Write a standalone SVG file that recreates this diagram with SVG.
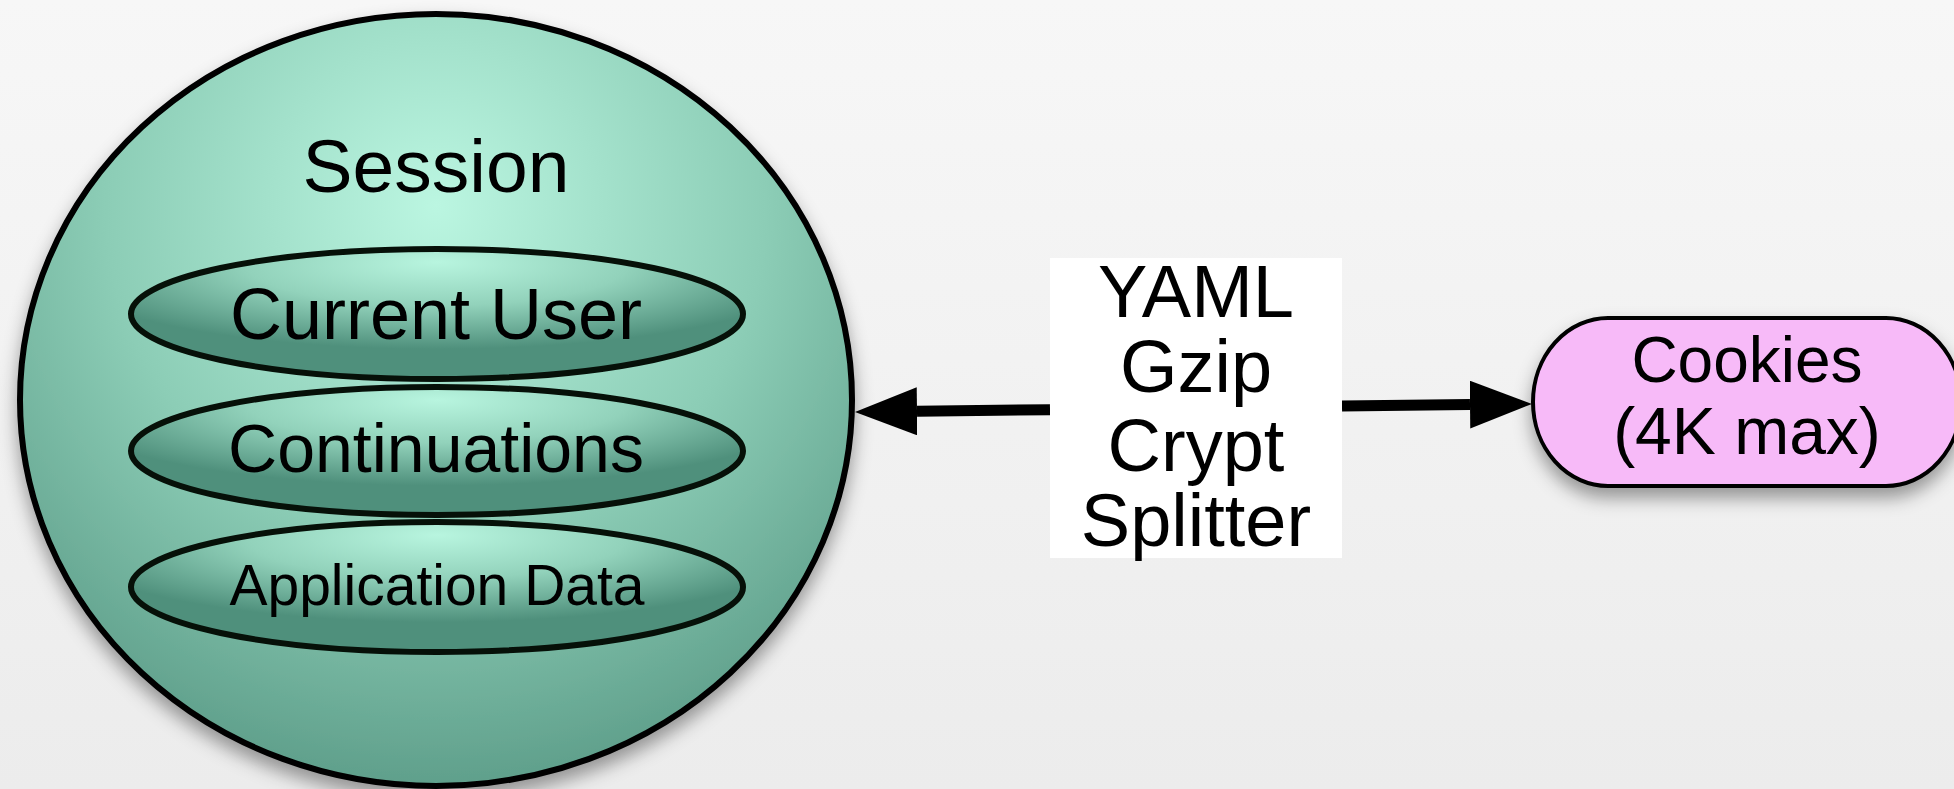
<svg xmlns="http://www.w3.org/2000/svg" width="1954" height="789" viewBox="0 0 1954 789">
<defs>
<linearGradient id="bg" x1="0" y1="0" x2="0" y2="1">
<stop offset="0" stop-color="#f7f7f7"/>
<stop offset="1" stop-color="#ececec"/>
</linearGradient>
<radialGradient id="bigGrad" gradientUnits="userSpaceOnUse" cx="436" cy="205" r="600">
<stop offset="0" stop-color="#bbf6e1"/>
<stop offset="0.55" stop-color="#8ccdb6"/>
<stop offset="1" stop-color="#5c9c88"/>
</radialGradient>
<radialGradient id="innerGrad" cx="0.5" cy="0.15" r="0.62" fx="0.5" fy="0.1">
<stop offset="0" stop-color="#b8f5df"/>
<stop offset="0.5" stop-color="#92d2bb"/>
<stop offset="1" stop-color="#4f907c"/>
</radialGradient>
<filter id="shadow" x="-20%" y="-20%" width="140%" height="150%">
<feDropShadow dx="0" dy="10" stdDeviation="9" flood-color="#000" flood-opacity="0.38"/>
</filter>
<marker id="head" viewBox="0 0 62 48" refX="0" refY="24" markerWidth="62" markerHeight="48" markerUnits="userSpaceOnUse" orient="auto">
<path d="M0,0 L62,24 L0,48 z" fill="#000"/>
</marker>
<style>
.lbl{font-family:"Liberation Sans",Arial,sans-serif;fill:#000;text-anchor:middle}
.inner{fill:url(#innerGrad);stroke:#061008;stroke-width:6}
.conn{stroke:#000;stroke-width:11;fill:none;marker-end:url(#head)}
.pipe{font-size:74px}
</style>
</defs>
<rect x="0" y="0" width="1954" height="789" fill="url(#bg)"/>

<g id="session">
<ellipse cx="436" cy="400" rx="416" ry="386" fill="url(#bigGrad)" stroke="#000" stroke-width="6" filter="url(#shadow)"/>
<text class="lbl" x="436" y="192" font-size="75">Session</text>
</g>

<g id="current-user">
<ellipse class="inner" cx="437" cy="314" rx="306" ry="65"/>
<text class="lbl" x="436" y="339" font-size="72">Current User</text>
</g>

<g id="continuations">
<ellipse class="inner" cx="437" cy="451" rx="306" ry="64"/>
<text class="lbl" x="436" y="472" font-size="68">Continuations</text>
</g>

<g id="application-data">
<ellipse class="inner" cx="437" cy="587" rx="306" ry="65"/>
<text class="lbl" x="437" y="605" font-size="57">Application Data</text>
</g>

<g id="connectors">
<line class="conn" x1="1050" y1="409.7" x2="917" y2="411.3"/>
<line class="conn" x1="1342" y1="406" x2="1470" y2="404.6"/>
</g>

<g id="pipeline">
<rect x="1050" y="258" width="292" height="300" fill="#fff"/>
<text class="lbl pipe" x="1196" y="317">YAML</text>
<text class="lbl pipe" x="1196" y="392">Gzip</text>
<text class="lbl pipe" x="1196" y="471">Crypt</text>
<text class="lbl pipe" x="1196" y="546">Splitter</text>
</g>

<g id="cookies">
<path d="M1608,318 L1886,318 A75,84 0 0 1 1886,486 L1608,486 A75,84 0 0 1 1608,318 z" fill="#f7baf8" stroke="#000" stroke-width="4" filter="url(#shadow)"/>
<text class="lbl" x="1747" y="382" font-size="64">Cookies</text>
<text class="lbl" x="1747" y="454" font-size="66">(4K max)</text>
</g>
</svg>
